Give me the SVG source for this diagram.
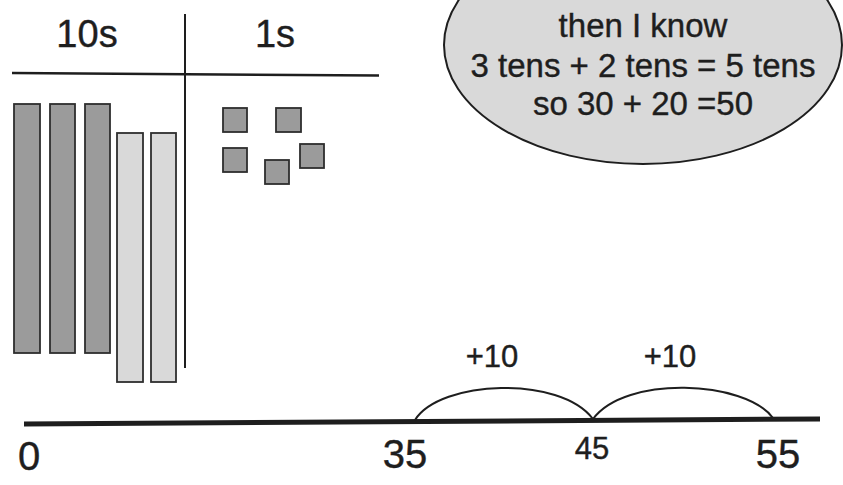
<svg xmlns="http://www.w3.org/2000/svg" width="843" height="485" viewBox="0 0 843 485">
<style>
text{font-family:"Liberation Sans","DejaVu Sans",sans-serif;fill:#1e1e1e;text-anchor:middle;stroke:#1e1e1e;stroke-width:0.4}
.dark{fill:#9b9b9b;stroke:#2e2e2e;stroke-width:1.8}
.light{fill:#d9d9d9;stroke:#2e2e2e;stroke-width:1.8}
.rule{stroke:#1e1e1e;fill:none}
.arc{stroke:#1e1e1e;stroke-width:2;fill:none}
</style>
<rect width="843" height="485" fill="#fff"/>
<g id="bubble">
<ellipse cx="643" cy="45" rx="199" ry="119" fill="#d9d9d9" stroke="#1e1e1e" stroke-width="2"/>
<text x="643" y="37" font-size="33">then I know</text>
<text x="643" y="77" font-size="33">3 tens + 2 tens = 5 tens</text>
<text x="643" y="115" font-size="33">so 30 + 20 =50</text>
</g>
<g id="place-value-chart">
<line class="rule" x1="12" y1="73" x2="379" y2="75.5" stroke-width="2.5"/>
<line class="rule" x1="185" y1="14" x2="185" y2="368" stroke-width="2"/>
<text x="87" y="47" font-size="38">10s</text>
<text x="275" y="47" font-size="38">1s</text>
</g>
<g id="tens">
<rect class="dark" x="14" y="104" width="26" height="249"/>
<rect class="dark" x="50" y="104" width="25" height="249"/>
<rect class="dark" x="85" y="104" width="25" height="249"/>
<rect class="light" x="117" y="133" width="26" height="249"/>
<rect class="light" x="151" y="133" width="25" height="249"/>
</g>
<g id="ones">
<rect class="dark" x="223" y="108" width="24" height="24"/>
<rect class="dark" x="276" y="108" width="25" height="24"/>
<rect class="dark" x="223" y="148" width="24" height="24"/>
<rect class="dark" x="265" y="160" width="24" height="24"/>
<rect class="dark" x="300" y="144" width="24" height="24"/>
</g>
<g id="number-line">
<line class="rule" x1="24" y1="424" x2="820" y2="419" stroke-width="5"/>
<text x="29" y="470" font-size="40">0</text>
<text x="405" y="468" font-size="40">35</text>
<text x="592" y="459" font-size="31">45</text>
<text x="778" y="468" font-size="40">55</text>
</g>
<g id="connectors">
<path class="arc" d="M415,420 C440,380 560,375 593,419"/>
<path class="arc" d="M593,419 C625,375 745,380 773,418"/>
</g>
<g id="jump-labels">
<text x="492" y="367" font-size="31">+10</text>
<text x="670" y="367" font-size="31">+10</text>
</g>
</svg>
